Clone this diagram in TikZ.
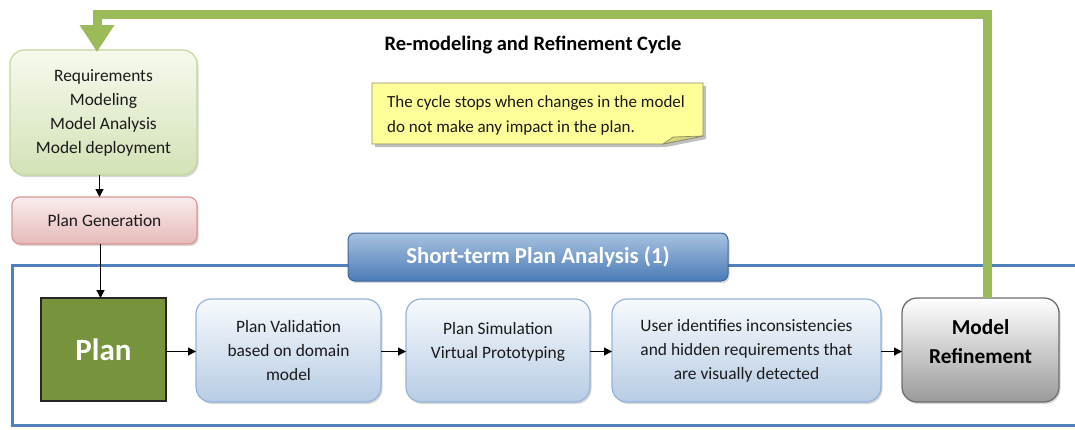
\documentclass[tikz,border=0pt]{standalone}
\usepackage{fontspec}
\setmainfont{Carlito}
\usetikzlibrary{arrows.meta,shadows}

\definecolor{cyclegreen}{HTML}{9BBB59}
\definecolor{reqtop}{HTML}{F6FAEE}
\definecolor{reqbot}{HTML}{D3E2B6}
\definecolor{reqline}{HTML}{C3D69B}
\definecolor{gentop}{HTML}{FAEDED}
\definecolor{genbot}{HTML}{E6B9B8}
\definecolor{genline}{HTML}{D99694}
\definecolor{framblue}{HTML}{4F81BD}
\definecolor{bartop}{HTML}{A9C2E0}
\definecolor{barbot}{HTML}{4A7BB7}
\definecolor{barline}{HTML}{3B679C}
\definecolor{planfill}{HTML}{77933C}
\definecolor{steptop}{HTML}{F7FAFD}
\definecolor{stepbot}{HTML}{B7CCE4}
\definecolor{stepline}{HTML}{95B3D7}
\definecolor{refbot}{HTML}{9A9A9A}
\definecolor{refline}{HTML}{6E6E6E}
\definecolor{notefill}{HTML}{FFFF99}
\definecolor{notefold}{HTML}{D4D47A}
\definecolor{noteline}{HTML}{8C8C70}
\definecolor{txt}{HTML}{1A1A1A}

\begin{document}
\begin{tikzpicture}[x=1pt,y=-1pt,
  base/.style={anchor=north west, inner sep=0pt, outer sep=0pt, align=center,
    text=txt, font=\fontsize{17.4}{24}\selectfont},
  label text/.style={inner sep=0pt, align=center, text=txt, font=\fontsize{17.4}{24}\selectfont},
  softshadow/.style={drop shadow={shadow xshift=1.5pt, shadow yshift=-2pt, opacity=0.25, fill=black!60}},
  reqbox/.style={base, rounded corners=14pt, top color=reqtop, bottom color=reqbot,
    draw=reqline, line width=1.2pt, softshadow},
  genbox/.style={base, rounded corners=8pt, top color=gentop, bottom color=genbot,
    draw=genline, line width=1.2pt, softshadow},
  stepbox/.style={base, rounded corners=15pt, top color=steptop, bottom color=stepbot,
    draw=stepline, line width=1.2pt, softshadow},
  refbox/.style={base, rounded corners=15pt, top color=white, bottom color=refbot,
    draw=refline, line width=1.3pt, softshadow},
  planbox/.style={base, fill=planfill, draw=black!85, line width=1.3pt,
    text=white, font=\bfseries\fontsize{31}{36}\selectfont},
  barbox/.style={base, rounded corners=7pt, top color=bartop, bottom color=barbot,
    draw=barline, line width=1pt, softshadow,
    text=white, font=\bfseries\fontsize{22.8}{26}\selectfont},
  arr/.style={-{Triangle[length=8pt,width=8pt]}, line width=1.1pt, black},
  cycleline/.style={-{Triangle[length=27pt,width=33pt]}, line width=9pt, cyclegreen},
  framestyle/.style={line width=3pt, framblue}
]
\useasboundingbox (0,0) rectangle (1075,429);

% analysis frame (open towards the right)
\draw[framestyle] (1078,265) -- (12,265) -- (12,425) -- (1078,425);

% upper left chain
\node[reqbox, minimum width=187pt, minimum height=125pt] (req) at (10,50)
  {Requirements\\Modeling\\Model Analysis\\Model deployment};
\node[genbox, minimum width=185pt, minimum height=47pt] (pgen) at (12,197)
  {Plan Generation};

% section title bar
\node[barbox, minimum width=380pt, minimum height=48pt] (bar) at (348,233)
  {Short-term Plan Analysis (1)};

% analysis steps
\node[planbox, minimum width=125pt, minimum height=103pt] (plan) at (41,298) {Plan};
\node[stepbox, minimum width=185pt, minimum height=103pt] (val) at (196,299)
  {Plan Validation\\based on domain\\model};
\node[stepbox, minimum width=184pt, minimum height=103pt] (sim) at (406,299) {};
\node[label text] (simtext) at ([yshift=9pt]sim.center)
  {Plan Simulation\\Virtual Prototyping};
\node[stepbox, minimum width=269pt, minimum height=103pt] (user) at (612,299)
  {User identifies inconsistencies\\and hidden requirements that\\are visually detected};
\node[refbox, minimum width=157pt, minimum height=104pt] (mr) at (902,298) {};
\node[label text, text=black, font=\bfseries\fontsize{21.3}{29}\selectfont]
  (mrtext) at ([yshift=8pt]mr.center) {Model\\Refinement};

% cycle title and note
\node[font=\bfseries\fontsize{20.5}{24}\selectfont, text=black] (cyc) at (533,45)
  {Re-modeling and Refinement Cycle};
\fill[black, opacity=0.25] (375,86) -- (706,86) -- (706,139) -- (666,147) -- (375,147) -- cycle;
\draw[fill=notefill, draw=noteline, line width=0.9pt]
  (372,83) -- (703,83) -- (703,136) -- (663,144) -- (372,144) -- cycle;
\draw[fill=notefold, draw=noteline, line width=0.7pt]
  (663,144) -- (673,137) -- (703,136) -- cycle;
\node[anchor=base west, align=left, inner sep=0pt, text=txt,
  font=\fontsize{17}{25}\selectfont] (note) at (387,132)
  {The cycle stops when changes in the model\\do not make any impact in the plan.};

% connectors
\draw[arr] ([xshift=-4pt]req.south) -- ([xshift=-4pt]req.south |- pgen.north);
\draw[arr] ([xshift=-4pt]pgen.south) -- ([xshift=-4pt]pgen.south |- plan.north);
\draw[arr] ([yshift=-2pt]plan.east) -- ([yshift=-2pt]plan.east -| val.west);
\draw[arr] ([yshift=-1pt]val.east) -- ([yshift=-1pt]val.east -| sim.west);
\draw[arr] ([yshift=-1pt]sim.east) -- ([yshift=-1pt]sim.east -| user.west);
\draw[arr] ([yshift=-1pt]user.east) -- ([yshift=-1pt]user.east -| mr.west);

% re-modeling cycle
\coordinate (cyctop) at (540,14.5);
\draw[cycleline, shorten >=-2pt] ([xshift=7pt]mr.north) |- (cyctop) -| ([xshift=-6.5pt]req.north);
\end{tikzpicture}
\end{document}
